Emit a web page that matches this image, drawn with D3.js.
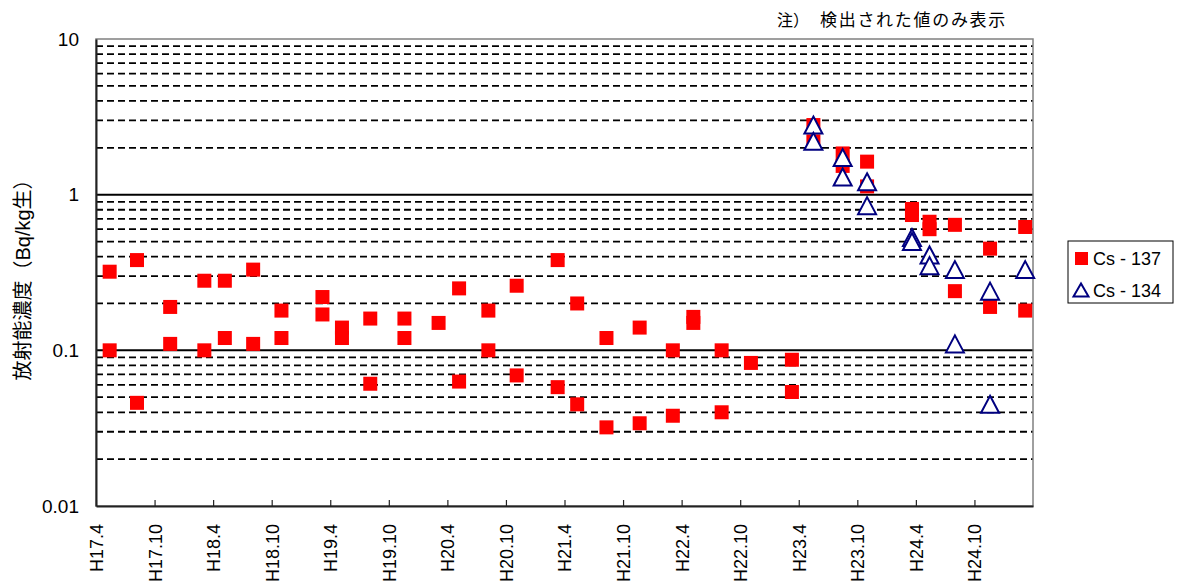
<!DOCTYPE html>
<html>
<head>
<meta charset="utf-8">
<script src="https://cdn.jsdelivr.net/npm/d3@7"></script>
<style>
  html, body { margin: 0; padding: 0; background: #fff; }
  svg { display: block; }
  text { font-family: "Liberation Sans", Arial, "Noto Sans CJK JP", sans-serif; fill: #000; }
  .jp { font-family: "Noto Sans CJK JP", sans-serif; }
  .mix { font-family: "Liberation Sans", Arial, "Noto Sans CJK JP", sans-serif; }
</style>
</head>
<body>
<svg id="chart" width="1180" height="587"></svg>
<script>
// ---- data ----
const tickMonths = [0, 6, 12, 18, 24, 30, 36, 42, 48, 54, 60, 66, 72, 78, 84, 90];
const tickLabels = ["H17.4", "H17.10", "H18.4", "H18.10", "H19.4", "H19.10", "H20.4", "H20.10",
                    "H21.4", "H21.10", "H22.4", "H22.10", "H23.4", "H23.10", "H24.4", "H24.10"];
const yTickValues = [0.01, 0.1, 1, 10];
const yTickLabels = ["0.01", "0.1", "1", "10"];

// months elapsed since H17.4 (sampling times)
const cs137Month = [1.4, 1.4, 4.2, 4.2, 7.6, 7.6, 11.1, 11.1, 13.2, 13.2, 16.1, 16.1, 19.0, 19.0,
                    23.2, 23.2, 25.2, 25.2, 28.1, 28.1, 31.6, 31.6, 35.1, 37.2, 37.2, 40.2, 40.2,
                    43.1, 43.1, 47.3, 47.3, 49.3, 49.3, 52.3, 52.3, 55.7, 55.7, 59.1, 59.1,
                    61.2, 61.2, 64.1, 64.1, 67.1, 71.3, 71.3, 73.5, 73.5, 76.5, 76.5, 79.0, 79.0,
                    83.6, 83.6, 85.4, 85.4, 88.0, 88.0, 91.6, 91.6, 95.2, 95.2];
const cs137Value = [0.32, 0.10, 0.38, 0.046, 0.19, 0.11, 0.28, 0.10, 0.28, 0.12, 0.33, 0.11, 0.18, 0.12,
                    0.22, 0.17, 0.14, 0.12, 0.16, 0.061, 0.16, 0.12, 0.15, 0.25, 0.063, 0.18, 0.10,
                    0.26, 0.069, 0.38, 0.058, 0.20, 0.045, 0.12, 0.032, 0.14, 0.034, 0.10, 0.038,
                    0.164, 0.15, 0.10, 0.040, 0.083, 0.087, 0.054, 2.8, 2.2, 1.84, 1.53, 1.63, 1.13,
                    0.81, 0.74, 0.67, 0.60, 0.64, 0.24, 0.45, 0.19, 0.62, 0.18];

const cs134Month = [73.5, 73.5, 76.5, 76.5, 79.0, 79.0, 83.6, 83.6, 85.4, 85.4, 88.0, 88.0, 91.6, 91.6, 95.2];
const cs134Value = [2.8, 2.2, 1.73, 1.30, 1.21, 0.85, 0.53, 0.50, 0.41, 0.35, 0.33, 0.11, 0.24, 0.045, 0.33];

const seriesNames = ["Cs-137", "Cs-134"];
const noteText = "検出された値のみ表示";
const yTitle = "放射能濃度（Bq/kg生）";

// ---- layout ----
const L = 96, R = 1033, T = 39, B = 506;
const svg = d3.select("#chart");

const x = d3.scaleLinear().domain([0, 96]).range([L, R]);
const y = d3.scaleLog().domain([0.01, 10]).range([B, T]);

// gridlines
const minor = [];
[0.01, 0.1, 1].forEach(d => { for (let k = 2; k <= 9; k++) minor.push(+(k * d).toPrecision(3)); });
const grid = svg.append("g");
grid.selectAll("line.minor").data(minor).join("line")
  .attr("x1", L).attr("x2", R)
  .attr("y1", d => y(d)).attr("y2", d => y(d))
  .attr("stroke", "#000").attr("stroke-width", 1.8).attr("stroke-dasharray", "7,4");
grid.selectAll("line.major").data([0.1, 1]).join("line")
  .attr("x1", L).attr("x2", R)
  .attr("y1", d => y(d)).attr("y2", d => y(d))
  .attr("stroke", "#000").attr("stroke-width", 2);

// frame (top/right gray)
svg.append("rect").attr("x", L).attr("y", T).attr("width", R - L).attr("height", B - T)
  .attr("fill", "none").attr("stroke", "#808080").attr("stroke-width", 1.5);

// x axis
const xAxis = d3.axisBottom(x).tickValues(tickMonths).tickSizeInner(-6).tickSizeOuter(0)
  .tickFormat((d, i) => tickLabels[i]);
const gx = svg.append("g").attr("transform", `translate(0,${B})`).call(xAxis);
gx.select(".domain").attr("stroke", "#222").attr("stroke-width", 2);
gx.selectAll(".tick line").attr("stroke", "#222").attr("stroke-width", 1.2);
gx.selectAll(".tick text")
  .attr("transform", "rotate(-90)")
  .attr("text-anchor", "end")
  .attr("x", -18).attr("y", 0).attr("dy", "0.36em")
  .style("font-size", "18px")
  .style("font-family", "'Liberation Sans', Arial, sans-serif");

// y axis
const yAxis = d3.axisLeft(y).tickValues(yTickValues).tickSize(0).tickPadding(17)
  .tickFormat((d, i) => yTickLabels[i]);
const gy = svg.append("g").attr("transform", `translate(${L},0)`).call(yAxis);
gy.select(".domain").attr("stroke", "#222").attr("stroke-width", 2);
gy.selectAll(".tick text").style("font-size", "19px")
  .style("font-family", "'Liberation Sans', Arial, sans-serif");

// y title
svg.append("text").attr("class", "mix")
  .attr("transform", `translate(23,275) rotate(-90)`)
  .attr("text-anchor", "middle").attr("dy", "0.35em")
  .style("font-size", "20px")
  .text(yTitle);

// note
svg.append("text").attr("class", "jp").attr("x", 777).attr("y", 26)
  .style("font-size", "16px").text("注）");
svg.append("text").attr("class", "jp").attr("x", 820).attr("y", 26)
  .style("font-size", "17px").style("letter-spacing", "1.7px").text(noteText);

// markers
const sq = 14;
const cs137 = cs137Month.map((m, i) => ({ m, v: cs137Value[i] }));
const cs134 = cs134Month.map((m, i) => ({ m, v: cs134Value[i] }));

svg.append("g").selectAll("rect").data(cs137).join("rect")
  .attr("x", d => x(d.m) - sq / 2).attr("y", d => y(d.v) - sq / 2)
  .attr("width", sq).attr("height", sq).attr("fill", "#ff0000");

function tri(cx, cy, w, h) {
  return `M${cx},${cy - h / 2}L${cx + w / 2},${cy + h / 2}L${cx - w / 2},${cy + h / 2}Z`;
}
svg.append("g").selectAll("path").data(cs134).join("path")
  .attr("d", d => tri(x(d.m), y(d.v), 18, 17))
  .attr("fill", "#fff").attr("stroke", "#000080").attr("stroke-width", 2);

// legend
const lg = svg.append("g");
lg.append("rect").attr("x", 1068).attr("y", 241).attr("width", 105).attr("height", 62)
  .attr("fill", "#fff").attr("stroke", "#000").attr("stroke-width", 1);
lg.append("rect").attr("x", 1075).attr("y", 252).attr("width", 13).attr("height", 13).attr("fill", "#ff0000");
lg.append("path").attr("d", tri(1081, 290, 15, 13)).attr("fill", "#fff")
  .attr("stroke", "#000080").attr("stroke-width", 2);
lg.selectAll("text.lg").data(seriesNames).join("text")
  .attr("x", 1093).attr("y", (d, i) => 265 + i * 32)
  .style("font-size", "18px")
  .text(d => d.replace("-", " - "));
</script>
</body>
</html>
